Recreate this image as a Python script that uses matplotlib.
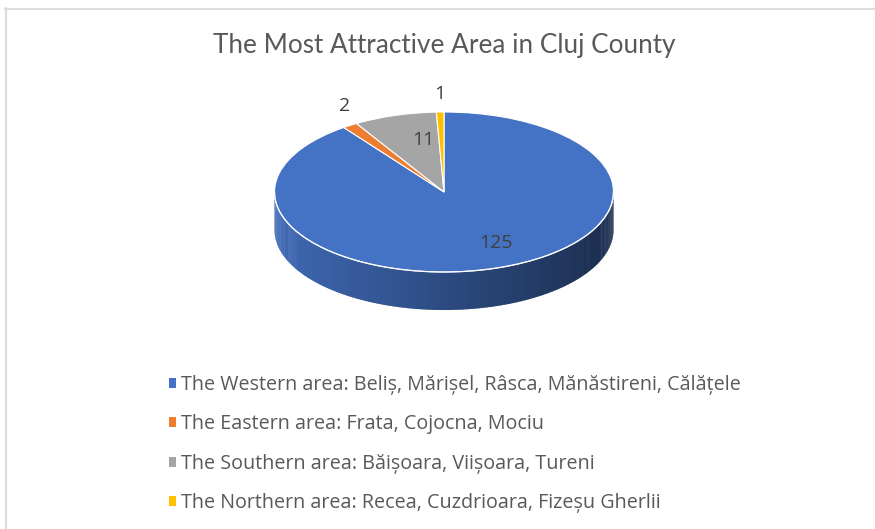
import numpy as np
import matplotlib
matplotlib.use("Agg")
import matplotlib.pyplot as plt
from matplotlib.lines import Line2D
from matplotlib.patches import Polygon
from matplotlib.colors import to_rgb

# ---- data ----
categories = [
    "The Western area: Beliș, Mărișel, Râsca, Mănăstireni, Călățele",
    "The Eastern area: Frata, Cojocna, Mociu",
    "The Southern area: Băișoara, Viișoara, Tureni",
    "The Northern area: Recea, Cuzdrioara, Fizeșu Gherlii",
]
values = [125, 2, 11, 1]
colors = ["#4472C4", "#ED7D31", "#A5A5A5", "#FFC000"]
title = "The Most Attractive Area in Cluj County"

# ---- layout ----
W, H, DPI = 875, 529, 100
fig = plt.figure(figsize=(W / DPI, H / DPI), dpi=DPI)
fig.patch.set_facecolor("white")

# pixel geometry of the pie
cx_px, cy_px = 444, 192          # center (from top)
rx_px, ry_px = 169.5, 80.0
depth = 38 / ry_px               # thickness in data units
xlo, xhi, ylo, yhi = -1.1, 1.1, -1.7, 1.45
ax_left = cx_px + xlo * rx_px
ax_w = (xhi - xlo) * rx_px
ax_bottom = (H - cy_px) + ylo * ry_px
ax_h = (yhi - ylo) * ry_px
ax = fig.add_axes([ax_left / W, ax_bottom / H, ax_w / W, ax_h / H])

wedges, _ = ax.pie(values, colors=colors, startangle=90, counterclock=False,
                   wedgeprops=dict(edgecolor="white", linewidth=0.8, zorder=3))
ax.set_aspect("auto")
ax.set_xlim(xlo, xhi)
ax.set_ylim(ylo, yhi)
ax.axis("off")

# ---- side of the 3D pie (front half) with gradient ----
for w, c in zip(wedges, colors):
    t1, t2 = w.theta1 % 360, w.theta2 % 360
    if t2 <= t1:
        t2 += 360
    base = np.array(to_rgb(c))
    for off in (0, 360):
        a = max(t1, 180 + off)
        b = min(t2, 360 + off)
        if b <= a:
            continue
        ts = np.linspace(a, b, 240)
        for i in range(len(ts) - 1):
            ta, tb = np.radians(ts[i]), np.radians(ts[i + 1] + 0.4)
            xa, xb = np.cos(ta), np.cos(tb)
            ya, yb = np.sin(ta), np.sin(tb)
            xm = 0.5 * (xa + xb)
            f = 0.66 - 0.26 * xm
            col = np.clip(base * f, 0, 1)
            poly = Polygon([(xa, ya), (xb, yb), (xb, yb - depth), (xa, ya - depth)],
                           closed=True, facecolor=col, edgecolor="none", zorder=1)
            ax.add_patch(poly)

# white rim on front edge
tt = np.radians(np.linspace(180, 360, 200))
ax.plot(np.cos(tt), np.sin(tt), color="white", lw=0.9, zorder=4, alpha=0.9)

# ---- data labels ----
label_r = [0.70, 1.21, 0.66, 1.22]
label_shift = [(0.09, 0.03), (0.087, 0.068), (0.067, 0.018), (0.004, 0.005)]
for w, v, r, (dx, dy) in zip(wedges, values, label_r, label_shift):
    mid = np.radians(0.5 * (w.theta1 + w.theta2))
    ax.text(r * np.cos(mid) + dx, r * np.sin(mid) + dy, str(v),
            ha="center", va="center", fontsize=14, color="#404040",
            family="Open Sans", zorder=6)

# ---- title ----
fig.text(cx_px / W, 1 - 46 / H, title, ha="center", va="center",
         fontsize=18.8, color="#595959", family="Lato")

# ---- legend ----
leg = fig.legend(wedges, categories, loc="upper left",
                 bbox_to_anchor=(151 / W, 1 - 357 / H), frameon=False,
                 handlelength=0.38, handleheight=0.38, handletextpad=0.25,
                 labelspacing=0.99, prop=dict(family="Open Sans", size=14.2),
                 labelcolor="#595959")
for h in leg.legend_handles:
    h.set_edgecolor("none")

# ---- frame border ----
fig.add_artist(Line2D([5 / W, 1], [1 - 8.5 / H, 1 - 8.5 / H], color="#dcdcdc", lw=1.5))
fig.add_artist(Line2D([5.5 / W, 5.5 / W], [0, 1 - 8 / H], color="#dcdcdc", lw=1.5))

fig.savefig("out.png", dpi=DPI, facecolor="white")
